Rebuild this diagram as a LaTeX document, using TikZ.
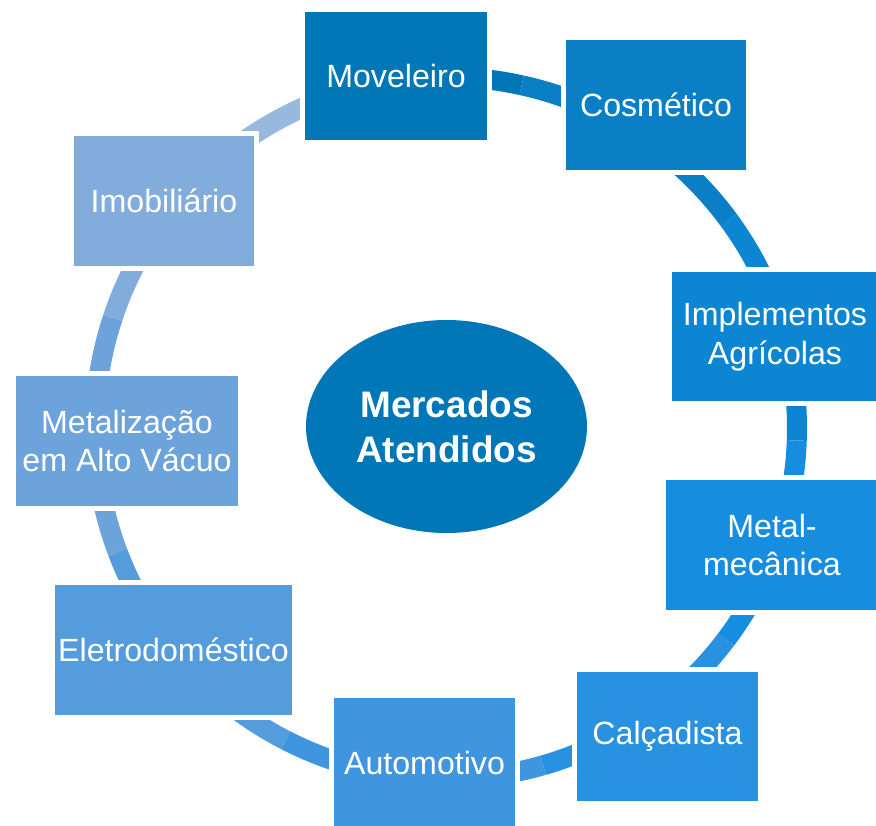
\documentclass[tikz,border=0pt]{standalone}
\usepackage{fontspec}
\setmainfont{Liberation Sans}
\usepackage{tikz}
\usetikzlibrary{shapes.geometric}

\definecolor{corMoveleiro}{HTML}{0277B7}
\definecolor{corCosmetico}{HTML}{0A7FC5}
\definecolor{corImplementos}{HTML}{0C86D3}
\definecolor{corMetal}{HTML}{168DDF}
\definecolor{corCalcadista}{HTML}{2892E1}
\definecolor{corAutomotivo}{HTML}{3F95DE}
\definecolor{corEletro}{HTML}{549CDB}
\definecolor{corMetalizacao}{HTML}{6CA3DA}
\definecolor{corImobiliario}{HTML}{82ACDC}
\definecolor{corClaro}{HTML}{98B8DE}

\tikzset{
    anel/.style={line width=0.4cm},
    setor/.style={rectangle, draw=white, line width=0.1cm, inner sep=0pt, align=center,
        text=white, font={\fontsize{18.3}{22.1}\selectfont}},
    centro/.style={ellipse, inner sep=0pt, align=center, text=white,
        font={\fontsize{21}{25.5}\selectfont\bfseries}}
}

\begin{document}
\begin{tikzpicture}
        \useasboundingbox (0,0) rectangle (17.52,16.5);
        \coordinate (c) at (8.92,7.94);
        % anel
        \draw[anel, corMoveleiro] (c) ++(77.55:7.02) arc[start angle=77.55, end angle=98.1, radius=7.02];
        \draw[anel, corCosmetico] (c) ++(36.35:7.02) arc[start angle=36.35, end angle=77.55, radius=7.02];
        \draw[anel, corImplementos] (c) ++(-2.05:7.02) arc[start angle=-2.05, end angle=36.35, radius=7.02];
        \draw[anel, corMetal] (c) ++(-37.05:7.02) arc[start angle=-37.05, end angle=-2.05, radius=7.02];
        \draw[anel, corCalcadista] (c) ++(-73.95:7.02) arc[start angle=-73.95, end angle=-37.05, radius=7.02];
        \draw[anel, corAutomotivo] (c) ++(242.8:7.02) arc[start angle=242.8, end angle=286.05, radius=7.02];
        \draw[anel, corEletro] (c) ++(200.75:7.02) arc[start angle=200.75, end angle=242.8, radius=7.02];
        \draw[anel, corMetalizacao] (c) ++(161.7:7.02) arc[start angle=161.7, end angle=200.75, radius=7.02];
        \draw[anel, corImobiliario] (c) ++(141.1:7.02) arc[start angle=141.1, end angle=161.7, radius=7.02];
        \draw[anel, corClaro] (c) ++(98.1:7.02) arc[start angle=98.1, end angle=141.1, radius=7.02];
        % setores
        \node[setor, fill=corMoveleiro, minimum width=3.74cm, minimum height=2.66cm] (moveleiro) at (7.92,14.98) {Moveleiro};
        \node[setor, fill=corCosmetico, minimum width=3.70cm, minimum height=2.70cm] (cosmetico) at (13.12,14.40) {Cosmético};
        \node[setor, fill=corImplementos, minimum width=4.22cm, minimum height=2.68cm] (implementos) at (15.50,9.77) {Implementos\\Agrícolas};
        \node[setor, fill=corMetal, minimum width=4.34cm, minimum height=2.70cm] (metal) at (15.44,5.60) {Metal-\\mecânica};
        \node[setor, fill=corCalcadista, minimum width=3.72cm, minimum height=2.68cm] (calcadista) at (13.35,1.77) {Calçadista};
        \node[setor, fill=corAutomotivo, minimum width=3.72cm, minimum height=2.70cm] (automotivo) at (8.49,1.24) {Automotivo};
        \node[setor, fill=corEletro, minimum width=4.84cm, minimum height=2.70cm] (eletro) at (3.47,3.50) {Eletrodoméstico};
        \node[setor, fill=corMetalizacao, minimum width=4.54cm, minimum height=2.70cm] (metalizacao) at (2.54,7.68) {Metalização\\em Alto Vácuo};
        \node[setor, fill=corImobiliario, minimum width=3.70cm, minimum height=2.70cm] (imobiliario) at (3.28,12.48) {Imobiliário};
        % centro
        \node[centro, fill=corMoveleiro, minimum width=5.62cm, minimum height=4.26cm] (mercados) at (8.93,7.97) {Mercados\\Atendidos};
    \end{tikzpicture}
\end{document}
